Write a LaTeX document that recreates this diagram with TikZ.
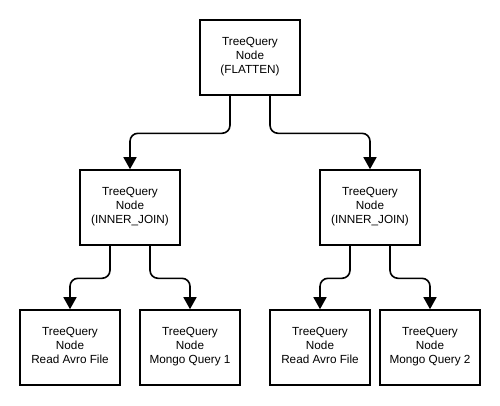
\documentclass[tikz,border=0pt]{standalone}
\usepackage{fontspec}
\setmainfont{Liberation Sans}
\usetikzlibrary{arrows.meta}
\begin{document}
\begin{tikzpicture}[x=1pt, y=-1pt,
    every node/.style={draw, line width=1.6pt, minimum width=100pt, minimum height=75pt,
        align=center, inner sep=2pt, font=\fontsize{11.75}{14}\selectfont,
        execute at begin node={\rule{0pt}{26pt}}, execute at end node={\rule[-4pt]{0pt}{0pt}}},
    link/.style={line width=1.6pt, rounded corners=8pt, -{Triangle[width=13pt,length=12pt]}}]
        \useasboundingbox (0,0) rectangle (500,405);
        \node (R) at (250,57.5) {TreeQuery\\Node\\(FLATTEN)};
        \node (J1) at (130,207.5) {TreeQuery\\Node\\(INNER\_JOIN)};
        \node (J2) at (370,207.5) {TreeQuery\\Node\\(INNER\_JOIN)};
        \node (A1) at (70,347.5) {TreeQuery\\Node\\Read Avro File};
        \node (M1) at (190,347.5) {TreeQuery\\Node\\Mongo Query 1};
        \node (A2) at (320,347.5) {TreeQuery\\Node\\Read Avro File};
        \node (M2) at (430,347.5) {TreeQuery\\Node\\Mongo Query 2};
        \draw[link] ([xshift=-20pt]R.south) -- ++(0,37.5) -| (J1.north);
        \draw[link] ([xshift=20pt]R.south) -- ++(0,37.5) -| (J2.north);
        \draw[link] ([xshift=-20pt]J1.south) -- ++(0,32.5) -| (A1.north);
        \draw[link] ([xshift=20pt]J1.south) -- ++(0,32.5) -| (M1.north);
        \draw[link] ([xshift=-20pt]J2.south) -- ++(0,32.5) -| (A2.north);
        \draw[link] ([xshift=20pt]J2.south) -- ++(0,32.5) -| (M2.north);
    \end{tikzpicture}
\end{document}
